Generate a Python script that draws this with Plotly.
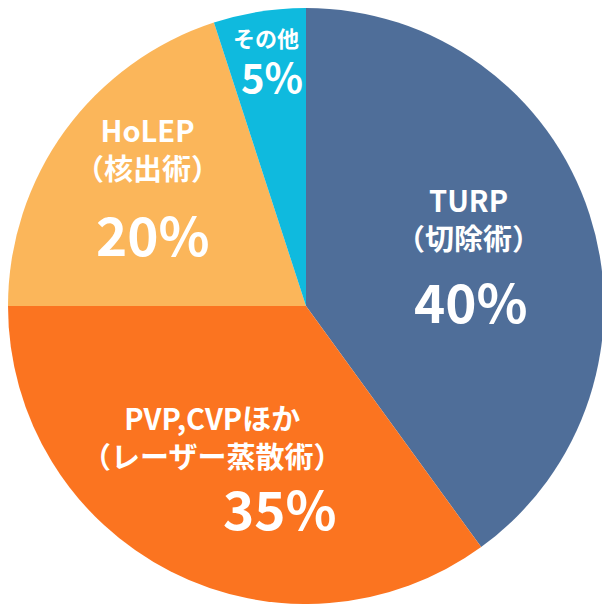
import plotly.graph_objects as go

labels = ["TURP（切除術）", "PVP,CVPほか（レーザー蒸散術）", "HoLEP（核出術）", "その他"]
values = [40, 35, 20, 5]
colors = ["#4f6e99", "#fb7420", "#fbb65a", "#0fbade"]

# text drawn on the slices: (text, centre x px, centre y px, font size)
slice_texts = [
    ("TURP<br>（切除術）", 468, 218, 29),
    ("40%", 471, 300, 53),
    ("PVP,CVPほか<br>（レーザー蒸散術）", 212, 436, 29),
    ("35%", 280, 507, 53),
    ("HoLEP<br>（核出術）", 147, 148, 29),
    ("20%", 153, 233, 53),
    ("その他", 266, 37, 22),
    ("5%", 272, 76, 40),
]

PAGE_OFFSET = 8  # body margin of the page
W = H = 596
FONT = "Noto Sans CJK JP"

fig = go.Figure(go.Pie(
    labels=labels,
    values=values,
    sort=False,
    direction="clockwise",
    rotation=0,
    marker=dict(colors=colors, line=dict(width=0)),
    textinfo="none",
    hoverinfo="label+percent",
    domain=dict(x=[0, 1], y=[0, 1]),
    showlegend=False,
))

annotations = []
for text, cx, cy, size in slice_texts:
    annotations.append(dict(
        x=(cx - PAGE_OFFSET) / W, y=1 - (cy - PAGE_OFFSET) / H,
        xref="paper", yref="paper", xanchor="center", yanchor="middle",
        showarrow=False,
        text="<b>" + text + "</b>",
        font=dict(family=FONT, size=size, color="white"),
    ))

fig.update_layout(
    width=W, height=H,
    margin=dict(l=0, r=0, t=0, b=0),
    paper_bgcolor="white",
    plot_bgcolor="white",
    annotations=annotations,
)

fig.write_html("out.html")
